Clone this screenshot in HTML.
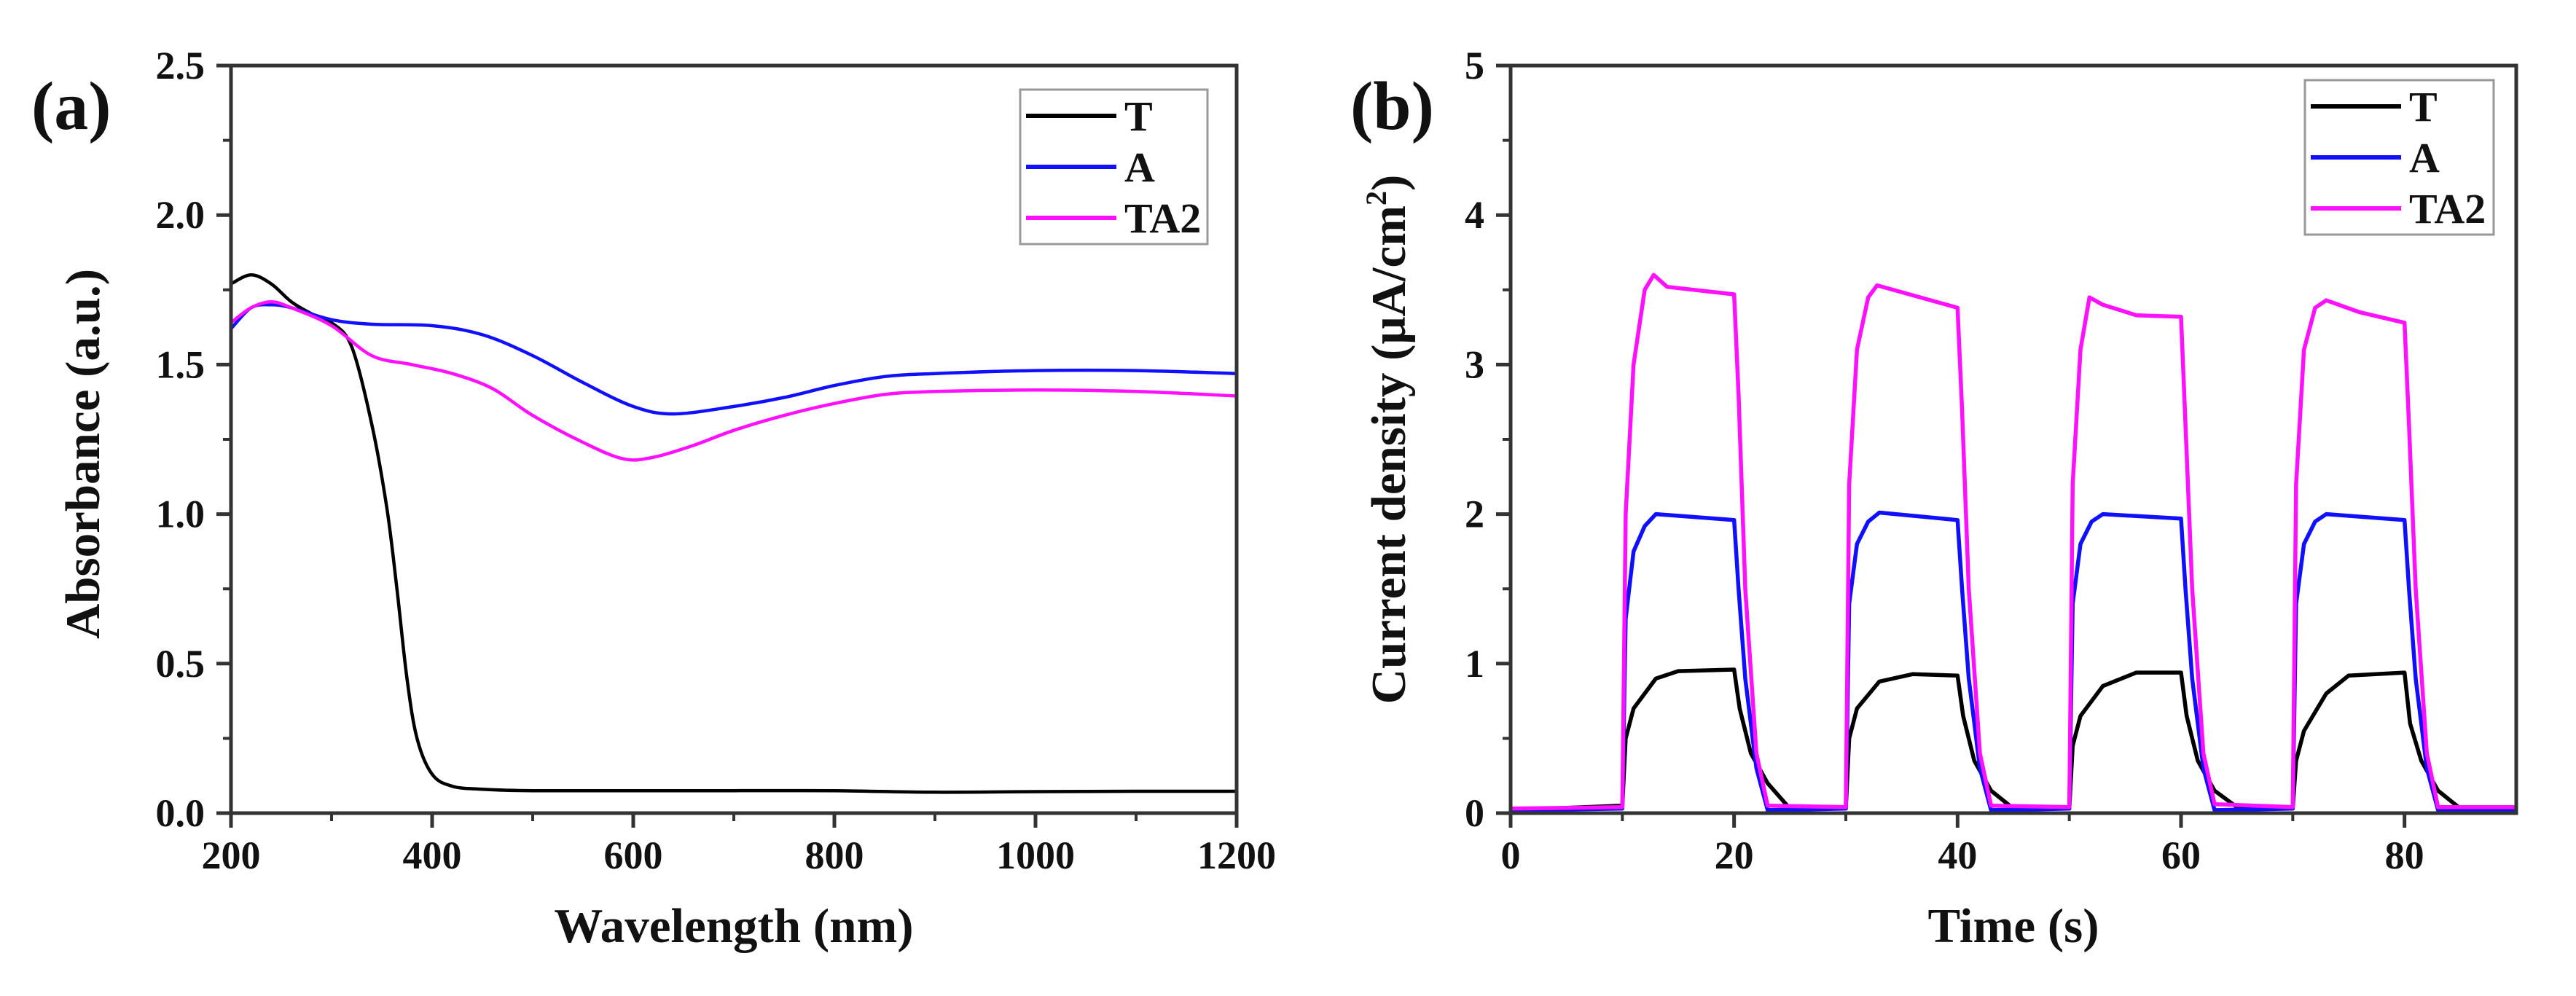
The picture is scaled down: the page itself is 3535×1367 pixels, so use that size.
<!DOCTYPE html>
<html><head><meta charset="utf-8"><style>
html,body{margin:0;padding:0;background:#fff;}
svg{display:block;font-family:"Liberation Serif",serif;font-weight:bold;}
</style></head><body>
<svg id="fig" width="3535" height="1367" viewBox="0 0 3535 1367"></svg>
<script>
// Panel (a) data
const aWave = [200,220,240,260,280,300,320,340,355,365,375,385,400,420,450,500,600,700,800,900,1000,1100,1200];
const aT    = [1.77,1.80,1.77,1.71,1.67,1.64,1.56,1.30,1.02,0.75,0.45,0.25,0.13,0.09,0.08,0.075,0.075,0.075,0.075,0.07,0.072,0.073,0.073];
const aWaveA = [200,220,240,260,300,340,400,450,500,550,600,640,700,750,800,850,900,1000,1100,1200];
const aA     = [1.62,1.69,1.70,1.69,1.65,1.635,1.63,1.60,1.53,1.44,1.36,1.335,1.36,1.39,1.43,1.46,1.47,1.48,1.48,1.47];
const aWaveTA2 = [200,220,240,260,300,340,380,420,460,500,550,590,620,660,700,750,800,850,900,1000,1100,1200];
const aTA2     = [1.64,1.69,1.71,1.69,1.63,1.53,1.50,1.47,1.42,1.33,1.24,1.185,1.19,1.23,1.28,1.33,1.37,1.40,1.41,1.415,1.41,1.395];
const aXTicks = [200,400,600,800,1000,1200];
const aYTicks = [0,0.5,1,1.5,2,2.5];
const aYLabels = ["0.0","0.5","1.0","1.5","2.0","2.5"];
// Panel (b) data
const bTimeT = [0,10,10.3,11,13,15,20,20.5,21.5,23,25,30,30.3,31,33,36,40,40.5,41.5,43,45,50,50.3,51,53,56,60,60.5,61.5,63,65,70,70.3,71,73,75,80,80.5,81.5,83,85,90];
const bT     = [0.02,0.05,0.5,0.7,0.9,0.95,0.96,0.7,0.4,0.2,0.03,0.03,0.5,0.7,0.88,0.93,0.92,0.65,0.35,0.15,0.03,0.03,0.45,0.65,0.85,0.94,0.94,0.65,0.35,0.15,0.04,0.03,0.35,0.55,0.8,0.92,0.94,0.6,0.35,0.15,0.03,0.03];
const bTimeA = [0,10,10.3,11,12,13,20,20.4,21,22,23,30,30.3,31,32,33,40,40.4,41,42,43,50,50.3,51,52,53,60,60.4,61,62,63,70,70.3,71,72,73,80,80.4,81,82,83,90];
const bA     = [0.02,0.03,1.3,1.75,1.92,2.0,1.96,1.5,0.9,0.3,0.02,0.03,1.4,1.8,1.95,2.01,1.96,1.5,0.9,0.3,0.02,0.03,1.4,1.8,1.95,2.0,1.97,1.5,0.9,0.3,0.02,0.03,1.4,1.8,1.95,2.0,1.96,1.5,0.9,0.3,0.02,0.02];
const bTimeTA2 = [0,10,10.3,11,12,12.8,14,20,20.4,21,22,23,30,30.3,31,32,32.8,40,40.4,41,42,43,50,50.3,51,51.8,53,56,60,60.4,61,62,63,70,70.3,71,72,73,76,80,80.4,81,82,83,90];
const bTA2     = [0.03,0.04,2.0,3.0,3.5,3.6,3.52,3.47,2.8,1.5,0.4,0.05,0.04,2.2,3.1,3.45,3.53,3.38,2.7,1.5,0.4,0.05,0.04,2.2,3.1,3.45,3.4,3.33,3.32,2.6,1.5,0.4,0.06,0.04,2.2,3.1,3.38,3.43,3.35,3.28,2.6,1.5,0.4,0.04,0.04];
const bXTicks = [0,20,40,60,80];
const bYTicks = [0,1,2,3,4,5];

const NS="http://www.w3.org/2000/svg";
const svg=document.getElementById('fig');
function mk(tag,attrs,parent){const e=document.createElementNS(NS,tag);for(const k in attrs)e.setAttribute(k,attrs[k]);(parent||svg).appendChild(e);return e;}

function pathFor(px,py,smooth){
  let d='M'+px[0].toFixed(1)+' '+py[0].toFixed(1);
  for(let i=0;i<px.length-1;i++){
    if(!smooth){d+='L'+px[i+1].toFixed(1)+' '+py[i+1].toFixed(1);continue;}
    const i0=Math.max(0,i-1),i3=Math.min(px.length-1,i+2);
    const c1x=px[i]+(px[i+1]-px[i0])/6,c1y=py[i]+(py[i+1]-py[i0])/6;
    const c2x=px[i+1]-(px[i3]-px[i])/6,c2y=py[i+1]-(py[i3]-py[i])/6;
    d+='C'+c1x.toFixed(1)+' '+c1y.toFixed(1)+' '+c2x.toFixed(1)+' '+c2y.toFixed(1)+' '+px[i+1].toFixed(1)+' '+py[i+1].toFixed(1);
  }
  return d;
}

function panel(cfg){
  const g=mk('g',{});
  
  
  const sx=v=>cfg.L+(v-cfg.x0)/(cfg.x1-cfg.x0)*(cfg.R-cfg.L);
  const sy=v=>cfg.B-(v-cfg.y0)/(cfg.y1-cfg.y0)*(cfg.B-cfg.T);
  cfg.series.forEach(s=>{
    const d=pathFor(s.x.map(sx),s.y.map(sy),cfg.smooth);
    const p=mk('path',{d:d,fill:'none',stroke:s.color,'stroke-width':cfg.lw,'stroke-linejoin':'round'},g);
    
    
  });
  const fr=mk('rect',{x:cfg.L,y:cfg.T,width:cfg.R-cfg.L,height:cfg.B-cfg.T,fill:'none',stroke:'#333','stroke-width':5},g);
  
  
  cfg.xMajors.forEach(v=>{
    mk('line',{x1:sx(v),x2:sx(v),y1:cfg.B,y2:cfg.B+20,stroke:'#333','stroke-width':5},g);
    const t=mk('text',{x:sx(v),y:1192,'font-size':54,'text-anchor':'middle',fill:'#111'},g);
    t.textContent=v;
    
    
  });
  cfg.xMinors.forEach(v=>mk('line',{x1:sx(v),x2:sx(v),y1:cfg.B,y2:cfg.B+11,stroke:'#333','stroke-width':4},g));
  cfg.yMajors.forEach((v,i)=>{
    mk('line',{x1:cfg.L-20,x2:cfg.L,y1:sy(v),y2:sy(v),stroke:'#333','stroke-width':5},g);
    const t=mk('text',{x:cfg.L-36,y:sy(v)+18,'font-size':54,'text-anchor':'end',fill:'#111'},g);
    t.textContent=cfg.yLabels?cfg.yLabels[i]:v;
    
    
  });
  cfg.yMinors.forEach(v=>mk('line',{x1:cfg.L-11,x2:cfg.L,y1:sy(v),y2:sy(v),stroke:'#333','stroke-width':4},g));
  const lg=mk('g',{},g);
  
  
  mk('rect',{x:cfg.leg[0],y:cfg.leg[1],width:cfg.leg[2],height:cfg.leg[3],fill:'#fff',stroke:'#999','stroke-width':3},lg);
  cfg.series.forEach((s,i)=>{
    const y=cfg.leg[1]+36+70*i;
    mk('line',{x1:cfg.leg[0]+8,x2:cfg.leg[0]+132,y1:y,y2:y,stroke:s.color,'stroke-width':6},lg);
    const t=mk('text',{x:cfg.leg[0]+143,y:y+20,'font-size':58,fill:'#111'},lg);
    t.textContent=s.label;
    
    
  });
  const xt=mk('text',{x:(cfg.L+cfg.R)/2,y:1293,'font-size':67,'text-anchor':'middle',fill:'#111'},g);
  xt.textContent=cfg.xTitle;
  
  
  const yt=mk('text',{x:0,y:0,'font-size':67,'text-anchor':'middle',fill:'#111',transform:`translate(${cfg.ytx},${(cfg.T+cfg.B)/2+cfg.yty}) rotate(-90)`},g);
  yt.innerHTML=cfg.yTitle;
  
  
  const pl=mk('text',{x:cfg.plx,y:177,'font-size':94,fill:'#111'},g);
  pl.textContent=cfg.panelLabel;
  
  
}

panel({name:'panel-a-absorbance',L:317,R:1697,T:90,B:1116,x0:200,x1:1200,y0:0,y1:2.5,lw:4.5,smooth:true,
  series:[{label:'T',color:'#000',x:aWave,y:aT},{label:'A',color:'#1010ff',x:aWaveA,y:aA},{label:'TA2',color:'#ff10ff',x:aWaveTA2,y:aTA2}],
  xMajors:aXTicks,xMinors:[300,500,700,900,1100],yMajors:aYTicks,yLabels:aYLabels,yMinors:[0.25,0.75,1.25,1.75,2.25],
  leg:[1400,123,257,212],xTitle:'Wavelength (nm)',yTitle:'Absorbance (a.u.)',ytx:136,yty:20,plx:43,panelLabel:'(a)'});

panel({name:'panel-b-photocurrent',L:2073,R:3453,T:90,B:1116,x0:0,x1:90,y0:0,y1:5,lw:5.5,smooth:false,
  series:[{label:'T',color:'#000',x:bTimeT,y:bT},{label:'A',color:'#1010ff',x:bTimeA,y:bA},{label:'TA2',color:'#ff10ff',x:bTimeTA2,y:bTA2}],
  xMajors:bXTicks,xMinors:[10,30,50,70],yMajors:bYTicks,yMinors:[0.5,1.5,2.5,3.5,4.5],
  leg:[3163,110,259,212],xTitle:'Time (s)',yTitle:'Current density (\u03bcA/cm<tspan font-size="40" dy="-26">2</tspan><tspan dy="26">)</tspan>',ytx:1928,yty:0,plx:1853,panelLabel:'(b)'});
</script>
</body></html>
